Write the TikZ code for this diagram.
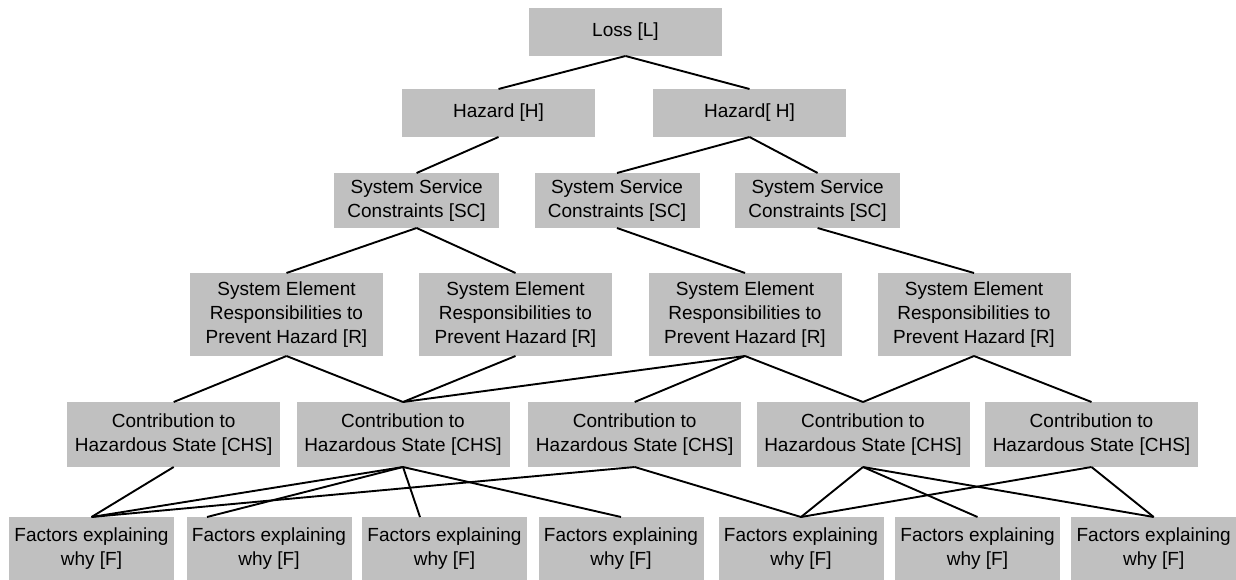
\documentclass[tikz,border=0pt]{standalone}
\usepackage{fontspec}
\setmainfont{Liberation Sans}
\definecolor{boxgray}{RGB}{192,192,192}
\begin{document}
\begin{tikzpicture}[x=1pt,y=-1pt,
  box/.style={rectangle, fill=boxgray, inner sep=0pt, outer sep=0pt, align=center,
    font=\fontsize{19}{24}\selectfont},
  lossbox/.style={box, minimum width=193pt, minimum height=48pt},
  hazbox/.style={box, minimum width=193pt, minimum height=48pt},
  scbox/.style={box, minimum width=165pt, minimum height=55pt},
  respbox/.style={box, minimum width=193pt, minimum height=83pt},
  chsbox/.style={box, minimum width=213pt, minimum height=65pt},
  factbox/.style={box, minimum width=165pt, minimum height=63pt},
  link/.style={draw=black, line width=1.9pt}]
\useasboundingbox (0,0) rectangle (1236,580);

% Loss and hazards
\node[lossbox] (L) at (625.5,32) {Loss [L]};
\node[hazbox] (H1) at (498.5,113) {Hazard [H]};
\node[hazbox] (H2) at (749.5,113) {Hazard[ H]};

% System service constraints
\node[scbox] (S1) at (416.6,200.5) {System Service\\Constraints [SC]};
\node[scbox] (S2) at (617,200.5) {System Service\\Constraints [SC]};
\node[scbox] (S3) at (817.6,200.5) {System Service\\Constraints [SC]};

% Responsibilities
\node[respbox] (R1) at (286.5,314.5) {System Element\\Responsibilities to\\Prevent Hazard [R]};
\node[respbox] (R2) at (515.5,314.5) {System Element\\Responsibilities to\\Prevent Hazard [R]};
\node[respbox] (R3) at (745,314.5) {System Element\\Responsibilities to\\Prevent Hazard [R]};
\node[respbox] (R4) at (974,314.5) {System Element\\Responsibilities to\\Prevent Hazard [R]};

% Contributions to hazardous state
\node[chsbox] (C1) at (173.7,434.5) {Contribution to\\Hazardous State [CHS]};
\node[chsbox] (C2) at (403,434.5) {Contribution to\\Hazardous State [CHS]};
\node[chsbox] (C3) at (634.7,434.5) {Contribution to\\Hazardous State [CHS]};
\node[chsbox] (C4) at (863,434.5) {Contribution to\\Hazardous State [CHS]};
\node[chsbox] (C5) at (1091.5,434.5) {Contribution to\\Hazardous State [CHS]};

% Causal factors
\node[factbox] (F1) at (91.5,548.5) {Factors explaining\\why [F]};
\node[factbox] (F2) at (269,548.5) {Factors explaining\\why [F]};
\node[factbox] (F3) at (444.5,548.5) {Factors explaining\\why [F]};
\node[factbox] (F4) at (621,548.5) {Factors explaining\\why [F]};
\node[factbox] (F5) at (801,548.5) {Factors explaining\\why [F]};
\node[factbox] (F6) at (977.5,548.5) {Factors explaining\\why [F]};
\node[factbox] (F7) at (1153.7,548.5) {Factors explaining\\why [F]};

% Links between levels
\draw[link] (L.south) -- (H1.north);
\draw[link] (L.south) -- (H2.north);
\draw[link] (H1.south) -- (S1.north);
\draw[link] (H2.south) -- (S2.north);
\draw[link] (H2.south) -- (S3.north);
\draw[link] (S1.south) -- (R1.north);
\draw[link] (S1.south) -- (R2.north);
\draw[link] (S2.south) -- (R3.north);
\draw[link] (S3.south) -- (R4.north);
\draw[link] (R1.south) -- (C1.north);
\draw[link] (R1.south) -- (C2.north);
\draw[link] (R2.south) -- (C2.north);
\draw[link] (R3.south) -- (C2.north);
\draw[link] (R3.south) -- (C3.north);
\draw[link] (R3.south) -- (C4.north);
\draw[link] (R4.south) -- (C4.north);
\draw[link] (R4.south) -- (C5.north);
\draw[link] (C1.south) -- (F1.north);
\draw[link] (C2.south) -- (F1.north);
\draw[link] (C2.south) -- ([xshift=-62pt]F2.north);
\draw[link] (C2.south) -- ([xshift=-24.5pt]F3.north);
\draw[link] (C2.south) -- (F4.north);
\draw[link] (C3.south) -- (F1.north);
\draw[link] (C3.south) -- (F5.north);
\draw[link] (C4.south) -- (F5.north);
\draw[link] (C4.south) -- (F6.north);
\draw[link] (C4.south) -- (F7.north);
\draw[link] (C5.south) -- (F5.north);
\draw[link] (C5.south) -- (F7.north);
\end{tikzpicture}
\end{document}
